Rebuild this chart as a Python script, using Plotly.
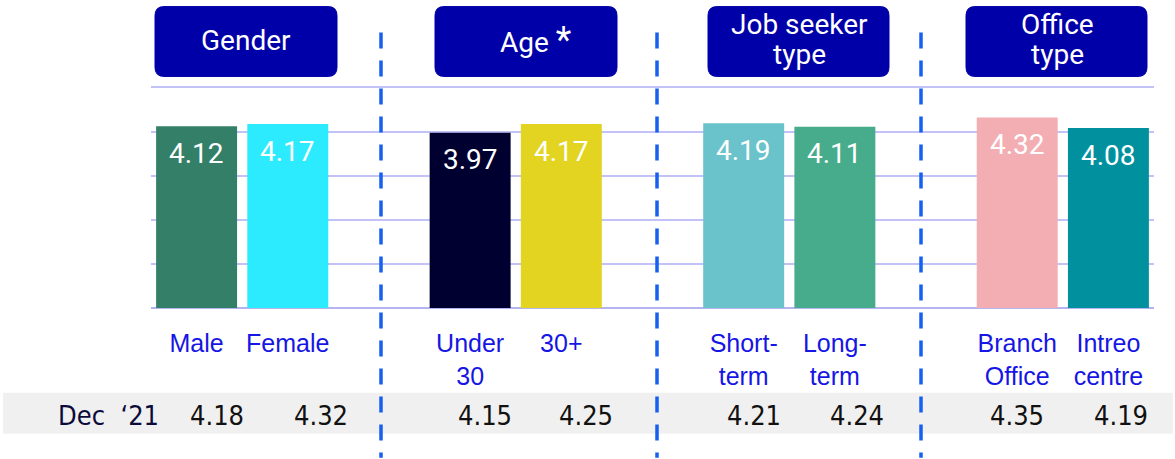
import plotly.graph_objects as go

# ---------------- data ----------------
groups = ["Gender", "Age *", "Job seeker<br>type", "Office<br>type"]
categories = ["Male", "Female", "Under<br>30", "30+",
              "Short-<br>term", "Long-<br>term", "Branch<br>Office", "Intreo<br>centre"]
scores = [4.12, 4.17, 3.97, 4.17, 4.19, 4.11, 4.32, 4.08]
dec21_label = "Dec  \u201821"
dec21 = [4.18, 4.32, 4.15, 4.25, 4.21, 4.24, 4.35, 4.19]
bar_colors = ["#337F68", "#2CEBFE", "#000030", "#E2D420",
              "#6AC3CB", "#46AC8C", "#F3AEB4", "#01919E"]

# ---------------- layout constants ----------------
FIG_W, FIG_H = 1175, 459
Y_MAX = 5.1
UNIT = 44.2            # px per score unit
BASE = 308             # px of y = 0
L, R = 151, 21
T = BASE - UNIT * Y_MAX
B = FIG_H - BASE
PW, PH = FIG_W - L - R, FIG_H - T - B


def px(x):
    return (x - L) / PW


def py(y):
    return (BASE - y) / PH


BOX_BLUE = "#0000A8"
SEP_BLUE = "#1560F0"
LABEL_BLUE = "#1616E4"
GRID = "#C2C2F6"
HEAD_FONT = "Roboto"
ROW_FONT = "DejaVu Sans Condensed, DejaVu Sans"
box_px = [(155, 337), (435, 617), (708, 889), (966, 1147)]
box_text_cx = [246, 536, 799, 1057]
sep_px = [381, 657, 921]
dec_xshift = [20, 33, 15, 25, 10, 22, 0, 13]

# category order with spacers between groups
cat_order = []
for i in range(0, len(categories), 2):
    cat_order += categories[i:i + 2]
    if i + 2 < len(categories):
        cat_order.append(" " * (i // 2 + 1))

fig = go.Figure()
fig.add_trace(go.Bar(
    x=categories, y=scores,
    marker=dict(color=bar_colors, line=dict(width=0)),
    hoverinfo="skip", showlegend=False,
))

shapes = []
annotations = []

# values inside bars
for c, v in zip(categories, scores):
    annotations.append(dict(
        x=c, y=v, xref="x", yref="y", text=f"{v:.2f}", showarrow=False,
        yanchor="middle", yshift=-27,
        font=dict(family=HEAD_FONT, size=28, color="white"),
    ))

# grey band for Dec '21 row
shapes.append(dict(type="rect", xref="paper", yref="paper",
                   x0=px(3), x1=px(1173), y0=py(434), y1=py(393),
                   fillcolor="#F0F0F0", line=dict(width=0), layer="below"))

annotations.append(dict(
    x=px(161), y=py(416), xref="paper", yref="paper", text=dec21_label,
    showarrow=False, xanchor="right", yanchor="middle",
    font=dict(family=ROW_FONT, size=27, color="#0B0B3B"),
))
for c, v, dx in zip(categories, dec21, dec_xshift):
    annotations.append(dict(
        x=c, y=py(416), xref="x", yref="paper", text=f"{v:.2f}",
        showarrow=False, xanchor="center", yanchor="middle", xshift=dx,
        font=dict(family=ROW_FONT, size=27, color="#111111"),
    ))

# separators
for sx in sep_px:
    shapes.append(dict(type="line", xref="paper", yref="paper",
                       x0=px(sx), x1=px(sx), y0=py(32), y1=py(458),
                       line=dict(color=SEP_BLUE, width=3.5, dash="16px,12px")))

# header boxes (rounded)
r = 9
for (x0, x1), cx, g in zip(box_px, box_text_cx, groups):
    y0, y1 = 6, 76
    pts = (f"M {px(x0 + r)},{py(y0)} L {px(x1 - r)},{py(y0)} "
           f"Q {px(x1)},{py(y0)} {px(x1)},{py(y0 + r)} "
           f"L {px(x1)},{py(y1 - r)} Q {px(x1)},{py(y1)} {px(x1 - r)},{py(y1)} "
           f"L {px(x0 + r)},{py(y1)} Q {px(x0)},{py(y1)} {px(x0)},{py(y1 - r)} "
           f"L {px(x0)},{py(y0 + r)} Q {px(x0)},{py(y0)} {px(x0 + r)},{py(y0)} Z")
    shapes.append(dict(type="path", xref="paper", yref="paper", path=pts,
                       fillcolor=BOX_BLUE, line=dict(color=BOX_BLUE, width=1)))
    lines = g.split("<br>")
    ys = [40] if len(lines) == 1 else [24, 54]
    for t, yy in zip(lines, ys):
        t = t.replace("*", "<span style='font-size:36px'>*</span>")
        annotations.append(dict(
            x=px(cx), y=py(yy), xref="paper", yref="paper", text=t,
            showarrow=False, xanchor="center", yanchor="middle",
            font=dict(family=HEAD_FONT, size=28, color="white"),
        ))

fig.update_layout(
    width=FIG_W, height=FIG_H,
    margin=dict(l=L, r=R, t=T, b=B, pad=0),
    paper_bgcolor="white", plot_bgcolor="white",
    bargap=0.112,
    shapes=shapes, annotations=annotations,
    xaxis=dict(type="category", categoryorder="array", categoryarray=cat_order,
               range=[-0.5, len(cat_order) - 0.5], showgrid=False, zeroline=False,
               showline=False, ticks="", ticklabelstandoff=18,
               tickfont=dict(family="Liberation Sans", size=25, color=LABEL_BLUE),
               fixedrange=True),
    yaxis=dict(range=[0, Y_MAX], dtick=1, showticklabels=False, showgrid=True,
               gridcolor=GRID, gridwidth=2, zeroline=True, zerolinecolor="#B4B4F0",
               zerolinewidth=2, showline=False, fixedrange=True),
)

fig.write_html("out.html", config={"displayModeBar": False},
               post_script="document.body.style.margin='0';")
